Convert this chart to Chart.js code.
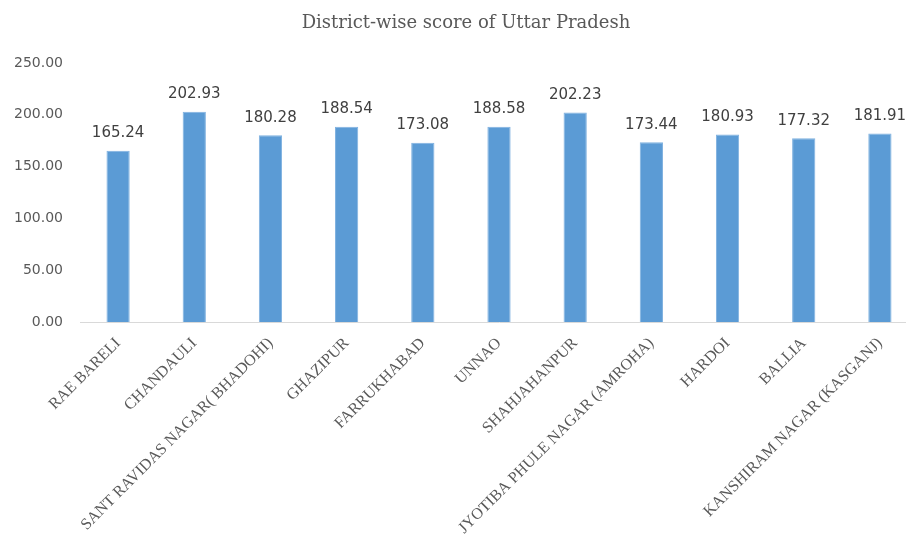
<!DOCTYPE html>
<html>
<head>
<meta charset="utf-8">
<script src="https://cdn.jsdelivr.net/npm/chart.js@4/dist/chart.umd.min.js"></script>
<style>
html,body{margin:0;padding:0;background:#fff;overflow:hidden;}
#wrap{position:relative;width:918px;height:540px;}
</style>
</head>
<body>
<div id="wrap"><canvas id="c" width="918" height="540"></canvas></div>
<script>
const chartTitle = "District-wise score of Uttar Pradesh";
const districts = [
  "RAE BARELI",
  "CHANDAULI",
  "SANT RAVIDAS NAGAR( BHADOHI)",
  "GHAZIPUR",
  "FARRUKHABAD",
  "UNNAO",
  "SHAHJAHANPUR",
  "JYOTIBA PHULE NAGAR (AMROHA)",
  "HARDOI",
  "BALLIA",
  "KANSHIRAM NAGAR (KASGANJ)"
];
const scores = [165.24, 202.93, 180.28, 188.54, 173.08, 188.58, 202.23, 173.44, 180.93, 177.32, 181.91];
const yTicks = [0, 50, 100, 150, 200, 250];

const titlePlugin = {
  id: 'titlePlugin',
  afterDraw(chart) {
    const ctx = chart.ctx;
    ctx.save();
    ctx.font = '18px "DejaVu Serif", serif';
    ctx.fillStyle = '#595959';
    ctx.textAlign = 'center';
    ctx.textBaseline = 'middle';
    ctx.fillText(chartTitle, chart.width / 2 + 7, 23);
    ctx.restore();
  }
};

const labelPlugin = {
  id: 'labelPlugin',
  afterDatasetsDraw(chart) {
    const ctx = chart.ctx;
    const meta = chart.getDatasetMeta(0);
    ctx.save();
    ctx.font = '15px "DejaVu Sans", sans-serif';
    ctx.fillStyle = '#404040';
    ctx.textAlign = 'center';
    ctx.textBaseline = 'bottom';
    meta.data.forEach((bar, i) => {
      ctx.fillText(scores[i].toFixed(2), bar.x, bar.y - 10);
    });
    ctx.restore();
  }
};

new Chart(document.getElementById('c'), {
  type: 'bar',
  data: {
    labels: districts,
    datasets: [{
      data: scores,
      backgroundColor: '#5B9BD5',
      borderColor: '#7FB1E0',
      borderWidth: 1,
      barPercentage: 0.305,
      categoryPercentage: 1.0
    }]
  },
  options: {
    responsive: false,
    animation: false,
    layout: { padding: { top: 63, right: 0, left: 0, bottom: 0 } },
    plugins: { legend: { display: false }, tooltip: { enabled: false }, title: { display: false } },
    scales: {
      x: {
        grid: { display: false, drawTicks: false },
        border: { display: true, color: '#D9D9D9', width: 1 },
        ticks: {
          minRotation: 45, maxRotation: 45, autoSkip: false,
          color: '#595959',
          font: { family: '"Liberation Serif", serif', size: 16 },
          padding: 12
        },
        afterFit(scale) { scale.height = 218; }
      },
      y: {
        min: 0, max: 250,
        afterBuildTicks(scale) { scale.ticks = yTicks.map(v => ({ value: v })); },
        grid: { display: false, drawTicks: false },
        border: { display: false },
        ticks: {
          color: '#595959',
          font: { family: '"DejaVu Sans", sans-serif', size: 14 },
          padding: 17,
          callback: v => Number(v).toFixed(2)
        },
        afterFit(scale) { scale.width = 80; }
      }
    }
  },
  plugins: [titlePlugin, labelPlugin]
});
</script>
</body>
</html>
